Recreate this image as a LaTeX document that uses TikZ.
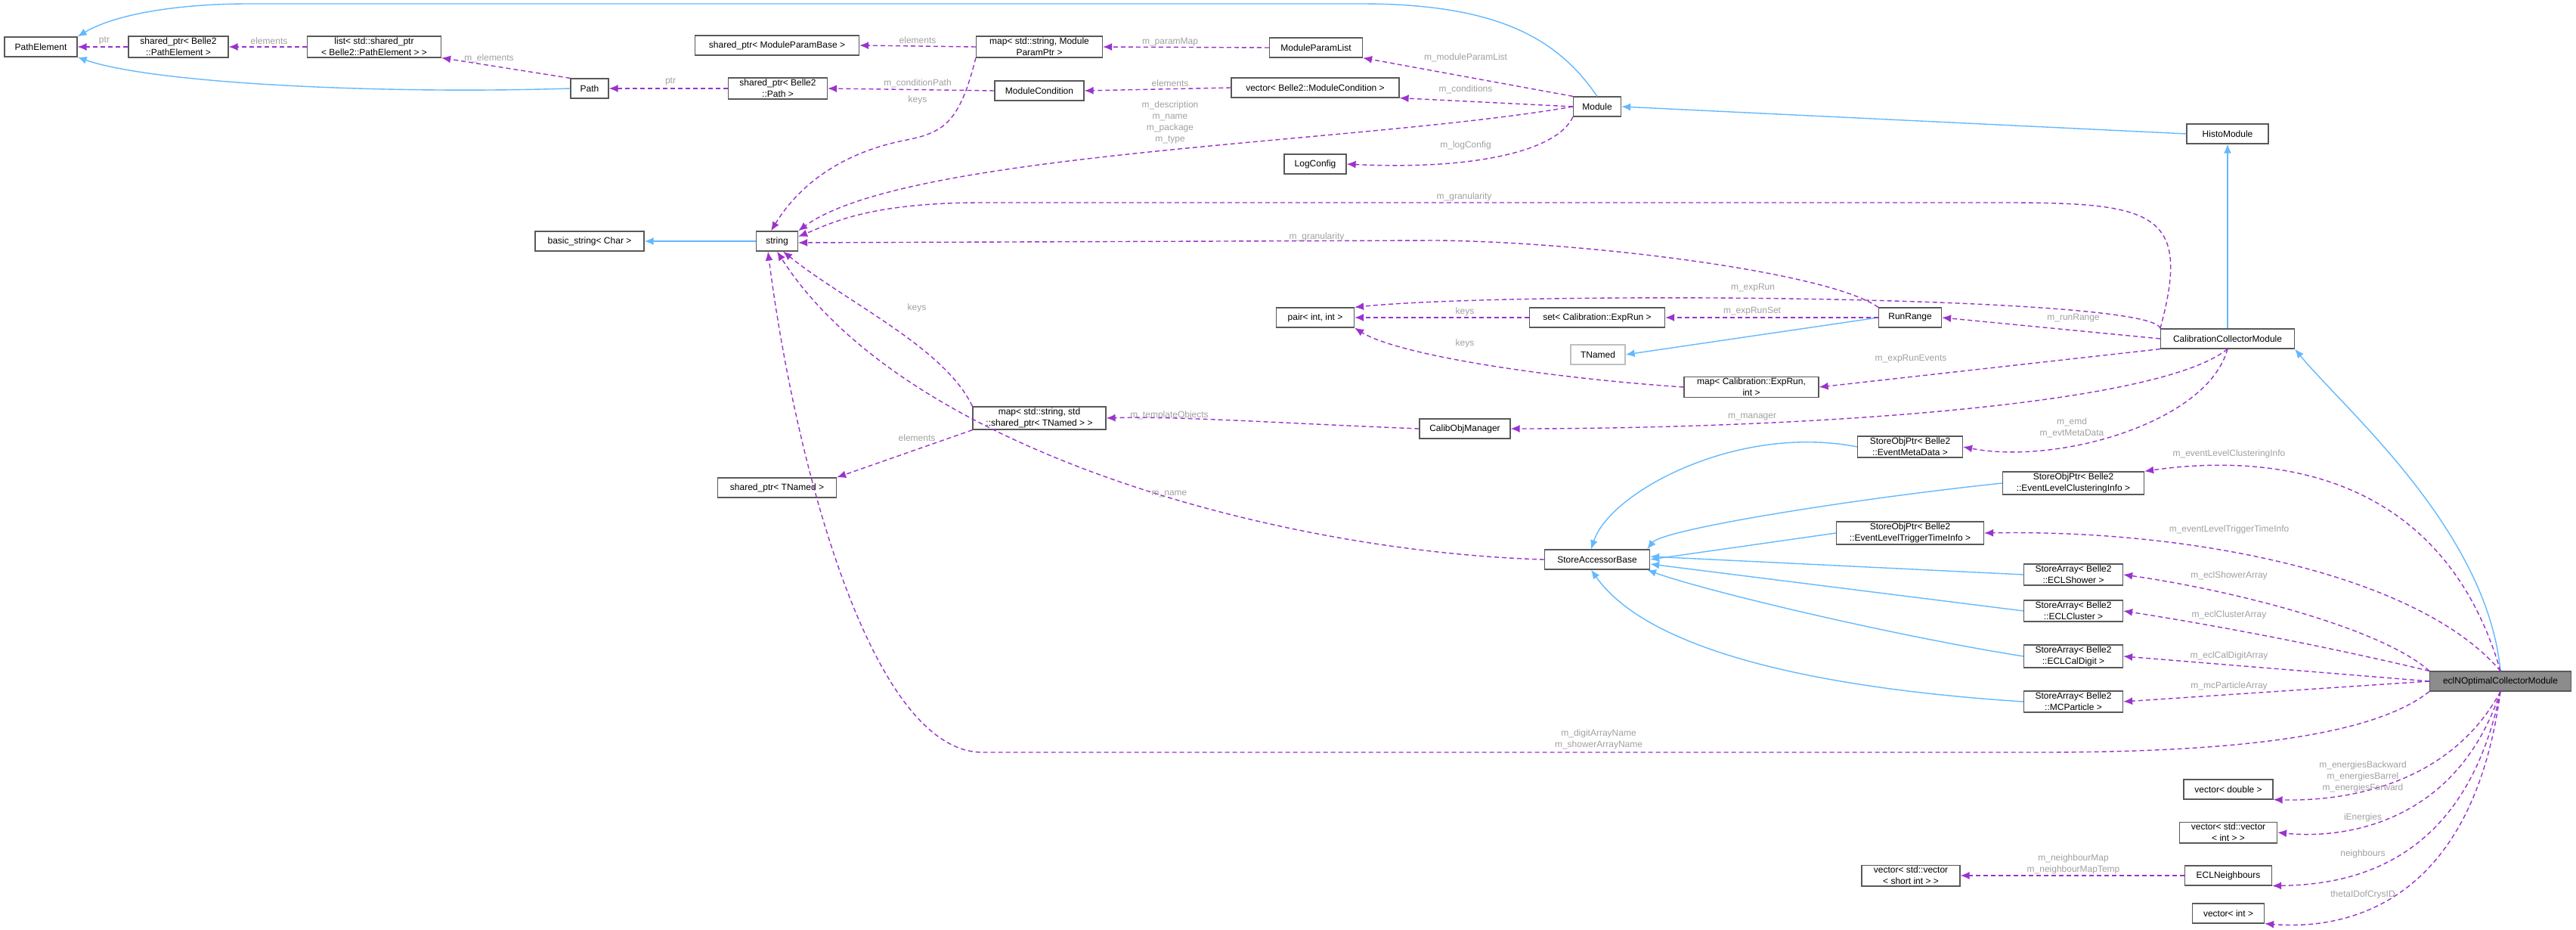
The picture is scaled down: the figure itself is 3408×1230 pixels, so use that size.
\documentclass[tikz,border=0pt]{standalone}
\usepackage{fontspec}
\setmainfont{Liberation Sans}
\usetikzlibrary{arrows.meta}
\definecolor{inhblue}{HTML}{63B8FF}
\definecolor{usepurple}{HTML}{9A32CD}
\definecolor{lblgrey}{HTML}{A0A0A0}
\begin{document}
\begin{tikzpicture}[x=1pt, y=-1pt,
  box/.style={draw=black!65, line width=1.2pt, fill=white, font=\fontsize{12}{15}\selectfont,
              align=center, minimum height=26pt, inner xsep=4pt, inner ysep=2pt},
  lbl/.style={text=lblgrey, font=\fontsize{12}{15}\selectfont, align=center, inner sep=1pt},
  inh/.style={draw=inhblue, line width=1.4pt, -{Latex[length=12pt,width=10pt]}},
  use/.style={draw=usepurple, line width=1.4pt, dashed, dash pattern=on 6pt off 4pt,
              -{Latex[length=12pt,width=10pt]}}]
\useasboundingbox (0,0) rectangle (3408,1230);
% nodes
\node[box, minimum width=96pt] (pathel) at (54,62) {PathElement};
\node[box, minimum width=132pt] (sppathel) at (236,62) {shared\_ptr< Belle2\\::PathElement >};
\node[box, minimum width=177pt] (listpe) at (495,62) {list< std::shared\_ptr\\< Belle2::PathElement > >};
\node[box, minimum width=50pt] (path) at (780,117) {Path};
\node[box, minimum width=131pt] (sppath) at (1029,117) {shared\_ptr< Belle2\\::Path >};
\node[box, minimum width=217pt] (spmpb) at (1028,60) {shared\_ptr< ModuleParamBase >};
\node[box, minimum width=167pt] (mapmp) at (1375,62) {map< std::string, Module\\ParamPtr >};
\node[box, minimum width=123pt] (mplist) at (1741,63) {ModuleParamList};
\node[box, minimum width=118pt] (modcond) at (1375,120) {ModuleCondition};
\node[box, minimum width=222pt] (vecmc) at (1740,116) {vector< Belle2::ModuleCondition >};
\node[box, minimum width=63pt] (module) at (2113,141) {Module};
\node[box, minimum width=82pt] (logcfg) at (1740,217) {LogConfig};
\node[box, minimum width=108pt] (histo) at (2947,177) {HistoModule};
\node[box, minimum width=144pt] (bstring) at (780,319) {basic\_string< Char >};
\node[box, minimum width=55pt] (string) at (1028,319) {string};
\node[box, minimum width=103pt] (pair) at (1740,420) {pair< int, int >};
\node[box, minimum width=179pt] (setexp) at (2113,420) {set< Calibration::ExpRun >};
\node[box, minimum width=83pt] (runrange) at (2527,420) {RunRange};
\node[box, minimum width=72pt, draw=black!25] (tnamed) at (2114,469) {TNamed};
\node[box, minimum width=178pt] (mapexp) at (2317,512) {map< Calibration::ExpRun,\\int >};
\node[box, minimum width=177pt] (ccm) at (2947,448) {CalibrationCollectorModule};
\node[box, minimum width=120pt] (calibmgr) at (1938,567) {CalibObjManager};
\node[box, minimum width=176pt] (maptn) at (1375,553) {map< std::string, std\\::shared\_ptr< TNamed > >};
\node[box, minimum width=157pt] (sptn) at (1028,645) {shared\_ptr< TNamed >};
\node[box, minimum width=139pt] (sab) at (2113,740) {StoreAccessorBase};
\node[box, minimum width=139pt] (emd) at (2527,591) {StoreObjPtr< Belle2\\::EventMetaData >};
\node[box, minimum width=187pt] (elci) at (2743,639) {StoreObjPtr< Belle2\\::EventLevelClusteringInfo >};
\node[box, minimum width=195pt] (eltti) at (2527,705) {StoreObjPtr< Belle2\\::EventLevelTriggerTimeInfo >};
\node[box, minimum width=131pt] (shower) at (2743,760) {StoreArray< Belle2\\::ECLShower >};
\node[box, minimum width=131pt] (cluster) at (2743,808) {StoreArray< Belle2\\::ECLCluster >};
\node[box, minimum width=131pt] (caldigit) at (2743,868) {StoreArray< Belle2\\::ECLCalDigit >};
\node[box, minimum width=131pt] (mcpart) at (2743,928) {StoreArray< Belle2\\::MCParticle >};
\node[box, minimum width=187pt, fill=black!45] (ecl) at (3308,901) {eclNOptimalCollectorModule};
\node[box, minimum width=118pt] (vecdbl) at (2948,1044) {vector< double >};
\node[box, minimum width=129pt] (vecvec) at (2948,1101) {vector< std::vector\\< int > >};
\node[box, minimum width=115pt] (neigh) at (2948,1158) {ECLNeighbours};
\node[box, minimum width=95pt] (vecint) at (2948,1208) {vector< int >};
\node[box, minimum width=130pt] (vecshort) at (2528,1158) {vector< std::vector\\< short int > >};
% inheritance
\draw[inh] (module.north) .. controls (2060,50) and (1980,5) .. (1800,5) -- (330,5)
  .. controls (230,5) and (150,20) .. (pathel.north east);
\draw[inh] (path.west) .. controls (500,125) and (200,110) .. (pathel.south east);
\draw[inh] (histo.west) -- (module.east);
\draw[inh] (ccm.north) -- (histo.south);
\draw[inh] (ecl.north) .. controls (3290,700) and (3100,540) .. (ccm.south east);
\draw[inh] (runrange.west) -- (tnamed.east);
\draw[inh] (string.west) -- (bstring.east);
\draw[inh] (emd.west) .. controls (2300,560) and (2130,650) .. ([xshift=-8pt]sab.north);
\draw[inh] (elci.west) .. controls (2450,660) and (2200,700) .. ([xshift=-4pt]sab.north east);
\draw[inh] (eltti.west) -- (sab.east);
\draw[inh] (shower.west) -- ([yshift=4pt]sab.east);
\draw[inh] (cluster.west) -- ([yshift=-6pt]sab.east);
\draw[inh] (caldigit.west) .. controls (2500,840) and (2250,780) .. ([xshift=-4pt]sab.south east);
\draw[inh] (mcpart.west) .. controls (2400,910) and (2180,860) .. ([xshift=-8pt]sab.south);
% members
\draw[use] (sppathel.west) -- (pathel.east);
\draw[use] (listpe.west) -- (sppathel.east);
\draw[use] (path.north west) -- (listpe.south east);
\draw[use] (sppath.west) -- (path.east);
\draw[use] (modcond.west) -- (sppath.east);
\draw[use] (mapmp.west) -- (spmpb.east);
\draw[use] (mapmp.south west) .. controls (1270,160) and (1250,175) .. (1200,185)
  .. controls (1120,200) and (1060,240) .. ([xshift=-8pt]string.north);
\draw[use] (mplist.west) -- (mapmp.east);
\draw[use] (module.north west) -- (mplist.south east);
\draw[use] (vecmc.west) -- (modcond.east);
\draw[use] (module.west) -- (vecmc.south east);
\draw[use] (module.west) .. controls (1800,190) and (1200,200) .. (string.north east);
\draw[use] (module.south west) .. controls (2060,200) and (1950,225) .. (logcfg.east);
\draw[use] (ccm.north west) .. controls (2900,280) and (2850,268) .. (2650,268) -- (1300,268)
  .. controls (1150,268) and (1100,295) .. ([yshift=6pt]string.east);
\draw[use] (runrange.north west) .. controls (2420,360) and (2100,320) .. (1900,318)
  -- ([yshift=-2pt]string.east);
\draw[use] (ccm.north west) .. controls (2850,390) and (2000,385) .. (pair.north east);
\draw[use] (setexp.west) -- (pair.east);
\draw[use] (runrange.west) -- (setexp.east);
\draw[use] (mapexp.west) .. controls (2050,500) and (1850,470) .. (pair.south east);
\draw[use] (ccm.west) -- (runrange.east);
\draw[use] (ccm.south west) -- (mapexp.east);
\draw[use] (ccm.south) .. controls (2850,540) and (2350,567) .. (calibmgr.east);
\draw[use] (calibmgr.west) .. controls (1700,560) and (1550,550) .. (maptn.east);
\draw[use] (maptn.north west) .. controls (1250,460) and (1120,400) .. ([xshift=8pt]string.south);
\draw[use] (maptn.south west) -- (sptn.north east);
\draw[use] (sab.west) .. controls (1700,730) and (1200,600) .. (string.south);
\draw[use] (ccm.south) .. controls (2920,560) and (2720,615) .. (emd.east);
\draw[use] (ecl.north) .. controls (3230,620) and (3000,600) .. (elci.north east);
\draw[use] (ecl.north) .. controls (3200,760) and (2900,700) .. (eltti.east);
\draw[use] (ecl.north west) .. controls (3150,830) and (2950,780) .. (shower.east);
\draw[use] (ecl.north west) .. controls (3100,860) and (2950,830) .. (cluster.east);
\draw[use] (ecl.west) -- (caldigit.east);
\draw[use] (ecl.west) -- (mcpart.east);
\draw[use] (ecl.south west) .. controls (3150,965) and (3000,995) .. (2700,995) -- (1300,995)
  .. controls (1150,995) and (1050,600) .. ([xshift=-12pt]string.south);
\draw[use] (ecl.south) .. controls (3240,1040) and (3100,1060) .. (vecdbl.south east);
\draw[use] (ecl.south) .. controls (3250,1090) and (3100,1110) .. (vecvec.east);
\draw[use] (ecl.south) .. controls (3260,1150) and (3100,1170) .. (neigh.south east);
\draw[use] (ecl.south) .. controls (3270,1200) and (3100,1230) .. (vecint.south east);
\draw[use] (neigh.west) -- (vecshort.east);
% labels
\node[lbl] (l1) at (138,54) {ptr};
\node[lbl] (l2) at (356,54) {elements};
\node[lbl] (l3) at (647,77) {m\_elements};
\node[lbl] (l4) at (887,108) {ptr};
\node[lbl] (l5) at (1214,53) {elements};
\node[lbl] (l6) at (1548,56) {m\_paramMap};
\node[lbl] (l7) at (1939,76) {m\_moduleParamList};
\node[lbl] (l8) at (1214,110) {m\_conditionPath};
\node[lbl] (l9) at (1548,110) {elements};
\node[lbl] (l10) at (1939,118) {m\_conditions};
\node[lbl] (l11) at (1214,132) {keys};
\node[lbl] (l12) at (1548,162) {m\_description\\m\_name\\m\_package\\m\_type};
\node[lbl] (l13) at (1939,192) {m\_logConfig};
\node[lbl] (l14) at (1937,260) {m\_granularity};
\node[lbl] (l15) at (1742,313) {m\_granularity};
\node[lbl] (l16) at (2319,381) {m\_expRun};
\node[lbl] (l17) at (1938,412) {keys};
\node[lbl] (l18) at (2318,412) {m\_expRunSet};
\node[lbl] (l19) at (1938,454) {keys};
\node[lbl] (l20) at (2743,421) {m\_runRange};
\node[lbl] (l21) at (2528,475) {m\_expRunEvents};
\node[lbl] (l22) at (2318,552) {m\_manager};
\node[lbl] (l23) at (2741,566) {m\_emd\\m\_evtMetaData};
\node[lbl] (l24) at (1213,407) {keys};
\node[lbl] (l25) at (1547,549) {m\_templateObjects};
\node[lbl] (l26) at (1213,579) {elements};
\node[lbl] (l27) at (1547,653) {m\_name};
\node[lbl] (l28) at (2949,600) {m\_eventLevelClusteringInfo};
\node[lbl] (l29) at (2949,700) {m\_eventLevelTriggerTimeInfo};
\node[lbl] (l30) at (2949,761) {m\_eclShowerArray};
\node[lbl] (l31) at (2949,813) {m\_eclClusterArray};
\node[lbl] (l32) at (2949,867) {m\_eclCalDigitArray};
\node[lbl] (l33) at (2949,907) {m\_mcParticleArray};
\node[lbl] (l34) at (2115,978) {m\_digitArrayName\\m\_showerArrayName};
\node[lbl] (l35) at (3126,1027) {m\_energiesBackward\\m\_energiesBarrel\\m\_energiesForward};
\node[lbl] (l36) at (3126,1081) {iEnergies};
\node[lbl] (l37) at (3126,1129) {neighbours};
\node[lbl] (l38) at (3126,1183) {thetaIDofCrysID};
\node[lbl] (l39) at (2743,1143) {m\_neighbourMap\\m\_neighbourMapTemp};
\end{tikzpicture}
\end{document}
